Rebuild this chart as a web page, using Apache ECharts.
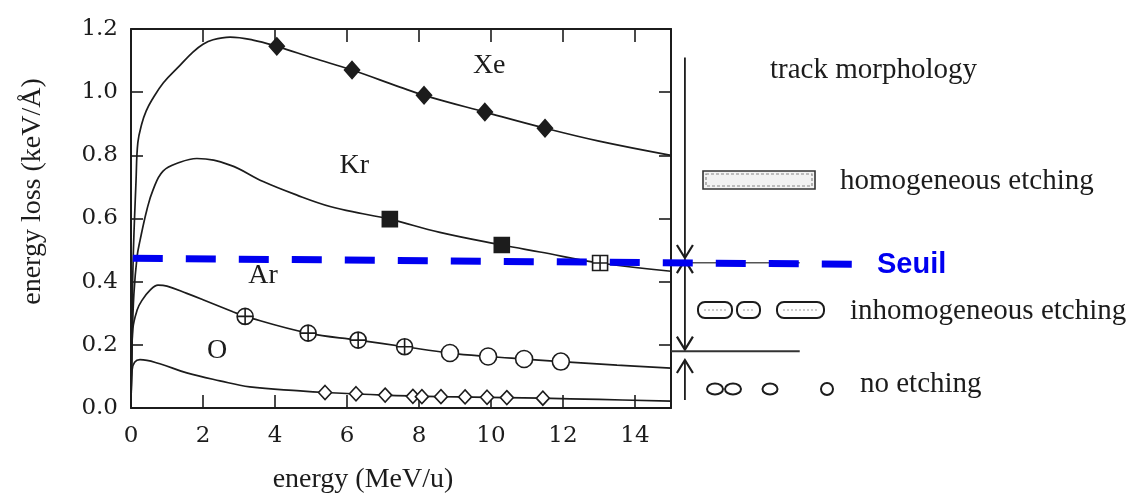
<!DOCTYPE html>
<html>
<head>
<meta charset="utf-8">
<script src="https://cdn.jsdelivr.net/npm/echarts@6/dist/echarts.min.js"></script>
<style>html,body{margin:0;padding:0;background:#fff}#c{width:1136px;height:500px}</style>
</head>
<body>
<div id="c"></div>
<script>
// ---- data (energy MeV/u, energy loss keV/Å) ----
var xeCurve = [[0,0],[0.02,0.2],[0.06,0.47],[0.14,0.72],[0.19,0.84],[0.3,0.9],[0.42,0.94],[0.58,0.975],[0.9,1.03],[1.36,1.085],[1.72,1.127],[2.0,1.152],[2.28,1.166],[2.75,1.174],[3.39,1.165],[4.05,1.145],[5.06,1.108],[6.14,1.07],[7.47,1.016],[8.14,0.99],[9.83,0.937],[11.5,0.886],[13,0.845],[15,0.80]];
var krCurve = [[0,0],[0.03,0.2],[0.08,0.36],[0.17,0.48],[0.25,0.53],[0.44,0.627],[0.61,0.69],[0.89,0.75],[1.36,0.778],[1.83,0.79],[2.75,0.769],[3.67,0.717],[4.61,0.674],[5.53,0.638],[6.44,0.615],[7.19,0.598],[8.58,0.556],[10.3,0.516],[11.36,0.494],[13.03,0.459],[15,0.433]];
var arCurve = [[0,0],[0.02,0.15],[0.05,0.25],[0.17,0.31],[0.3,0.34],[0.53,0.373],[0.75,0.389],[1.0,0.386],[1.55,0.363],[2.0,0.343],[2.83,0.305],[3.17,0.29],[4.92,0.237],[6.31,0.215],[7.6,0.194],[8.86,0.174],[9.92,0.163],[10.92,0.155],[11.94,0.147],[13.5,0.136],[15,0.126]];
var oCurve = [[0,0],[0.03,0.12],[0.1,0.145],[0.25,0.153],[0.8,0.14],[1.55,0.111],[2.47,0.086],[3.3,0.067],[4.7,0.054],[5.4,0.049],[7.0,0.041],[8.6,0.036],[10.4,0.033],[11.4,0.031],[13,0.027],[15,0.022]];

var xeMarkers = [[4.05,1.145],[6.14,1.07],[8.14,0.99],[9.83,0.937],[11.5,0.886]];
var krMarkers = [[7.19,0.598],[10.3,0.516]];
var krBoxPlus = [[13.03,0.459]];
var arPlusCircles = [[3.17,0.29],[4.92,0.237],[6.31,0.215],[7.6,0.194]];
var arCircles = [[8.86,0.174],[9.92,0.163],[10.92,0.155],[11.94,0.147]];
var oDiamonds = [[5.39,0.049],[6.25,0.045],[7.06,0.041],[7.83,0.037],[8.08,0.036],[8.61,0.036],[9.28,0.035],[9.89,0.034],[10.44,0.033],[11.44,0.031]];

var seuilLine = [[0.05,0.474],[20.06,0.455]];
var etchBoundaries = [0.46, 0.18];
var xTickLabels = ['0','2','4','6','8','10','12','14'];
var yTickLabels = ['0.0','0.2','0.4','0.6','0.8','1.0','1.2'];
var ionLabels = [{t:'Xe',e:9.95,v:1.085},{t:'Kr',e:6.2,v:0.766},{t:'Ar',e:3.67,v:0.42},{t:'O',e:2.39,v:0.183}];
var arrowX = 15.39;
var arrows = [{from:1.11,to:0.475,heads:[false,true]},{from:0.468,to:0.185,heads:[true,true]},{from:0.025,to:0.152,heads:[false,true]}];

// ---- chart ----
var chart = echarts.init(document.getElementById('c'));
var serif = 'Liberation Serif';
var ink = '#1c1c1c';
var plusCircle = 'path://M10,0A10,10,0,1,1,10,20A10,10,0,1,1,10,0Z M10,0L10,20 M0,10L20,10';
var boxPlus = 'path://M0,0L20,0L20,20L0,20Z M10,0L10,20 M0,10L20,10';

function curve(data){
  return {type:'line', xAxisIndex:0, yAxisIndex:0, data:data, showSymbol:false, smooth:0.4,
    lineStyle:{color:ink, width:1.7}, z:2, silent:true};
}
function marks(data, symbol, size, filled){
  return {type:'scatter', xAxisIndex:0, yAxisIndex:0, data:data, symbol:symbol, symbolSize:size,
    itemStyle:{color: filled ? ink : '#fff', borderColor:ink, borderWidth:1.6, opacity:1}, z:4, silent:true};
}

var xBase = {type:'value', min:0, max:15, interval:2, gridIndex:0,
  axisLine:{show:true, onZero:false, lineStyle:{color:ink, width:2}},
  axisTick:{show:true, inside:true, length:13, lineStyle:{color:ink, width:1.6}},
  splitLine:{show:false}};
var yBase = {type:'value', min:0, max:1.2, interval:0.2, gridIndex:0,
  axisLine:{show:true, onZero:false, lineStyle:{color:ink, width:2}},
  axisTick:{show:true, inside:true, length:12, lineStyle:{color:ink, width:1.6}},
  splitLine:{show:false}};

var option = {
  backgroundColor:'#fff',
  animation:false,
  grid:[
    {left:131, right:465, top:29, bottom:92, containLabel:false},
    {left:131, width:722, top:29, bottom:92, containLabel:false}
  ],
  xAxis:[
    Object.assign({}, xBase, {position:'bottom',
      axisLabel:{show:true, showMaxLabel:false, margin:17, color:ink, fontFamily:'DejaVu Serif', fontSize:23,
        formatter:function(v){ var i = Math.round(v/2); return (Math.abs(v-2*i)<1e-6 && xTickLabels[i]!==undefined) ? xTickLabels[i] : ''; }},
      name:'energy (MeV/u)', nameLocation:'middle', nameGap:58,
      nameTextStyle:{color:ink, fontFamily:serif, fontSize:28, padding:[0,76,0,0]}}),
    Object.assign({}, xBase, {position:'top', axisLabel:{show:false}}),
    {type:'value', gridIndex:1, min:0, max:20.06, show:false}
  ],
  yAxis:[
    Object.assign({}, yBase, {position:'left',
      axisLabel:{show:true, margin:13, color:ink, fontFamily:'DejaVu Serif', fontSize:23,
        formatter:function(v){ var i = Math.round(v/0.2); return yTickLabels[i] !== undefined ? yTickLabels[i] : ''; }},
      name:'energy loss (keV/\u00C5)', nameLocation:'middle', nameGap:84, nameRotate:90,
      nameTextStyle:{color:ink, fontFamily:serif, fontSize:28, padding:[0,0,0,54]}}),
    Object.assign({}, yBase, {position:'right', axisLabel:{show:false}}),
    {type:'value', gridIndex:1, min:0, max:1.2, show:false}
  ],
  series:[
    curve(xeCurve), curve(krCurve), curve(arCurve), curve(oCurve),
    marks(xeMarkers, 'diamond', [15,17], true),
    marks(krMarkers, 'rect', 15, true),
    marks(krBoxPlus, boxPlus, 15, false),
    marks(arPlusCircles, plusCircle, 16, false),
    marks(arCircles, 'circle', 17, false),
    marks(oDiamonds, 'diamond', [13,14], false),
    // threshold boundaries of the track-morphology scale
    {type:'line', xAxisIndex:2, yAxisIndex:2, data:[[15,etchBoundaries[0]],[18.58,etchBoundaries[0]]], showSymbol:false,
      lineStyle:{color:'#555', width:1.5}, z:3, silent:true},
    {type:'line', xAxisIndex:2, yAxisIndex:2, data:[[15,etchBoundaries[1]],[18.58,etchBoundaries[1]]], showSymbol:false,
      lineStyle:{color:'#333', width:2}, z:3, silent:true},
    // Seuil
    {type:'line', xAxisIndex:2, yAxisIndex:2, data:seuilLine, showSymbol:false,
      lineStyle:{color:'#0000f0', width:7, type:[30,23], cap:'butt'}, z:10, silent:true}
  ]
};
chart.setOption(option);

function P(e, v){ return chart.convertToPixel({xAxisIndex:2, yAxisIndex:2}, [e, v]); }

var g = [];
// arrows
arrows.forEach(function(a){
  var p1 = P(arrowX, a.from), p2 = P(arrowX, a.to);
  g.push({type:'line', shape:{x1:p1[0], y1:p1[1], x2:p2[0], y2:p2[1]}, style:{stroke:ink, lineWidth:1.8}});
  function head(tip, other){
    var dir = other[1] > tip[1] ? 1 : -1;
    g.push({type:'polyline', shape:{points:[[tip[0]-8, tip[1]+dir*13],[tip[0], tip[1]],[tip[0]+8, tip[1]+dir*13]]},
      style:{stroke:ink, lineWidth:2.2, fill:null}});
  }
  if (a.heads[0]) head(p1, p2);
  if (a.heads[1]) head(p2, p1);
});
// ion labels inside the plot
ionLabels.forEach(function(l){
  var p = chart.convertToPixel({xAxisIndex:0, yAxisIndex:0}, [l.e, l.v]);
  g.push({type:'text', x:p[0], y:p[1], style:{text:l.t, font:'28px "Liberation Serif"', fill:ink, textAlign:'center', textVerticalAlign:'middle'}});
});
// morphology legend texts
function txt(t, x, y, font, color){ g.push({type:'text', x:x, y:y, style:{text:t, font:font, fill:color||ink, textAlign:'left', textVerticalAlign:'middle'}}); }
txt('track morphology', 770, 70, '29px "Liberation Serif"');
txt('homogeneous etching', 840, 181, '29px "Liberation Serif"');
txt('inhomogeneous etching', 850, 311, '29px "Liberation Serif"');
txt('no etching', 860, 384, '29px "Liberation Serif"');
txt('Seuil', 877, 265, 'bold 29px "Liberation Sans"', '#0000f0');
// icons
g.push({type:'rect', shape:{x:703, y:171, width:112, height:18}, style:{fill:'#f2f2f2', stroke:'#333', lineWidth:1.6}});
g.push({type:'rect', shape:{x:706, y:174, width:106, height:12}, style:{fill:null, stroke:'#888', lineWidth:1.2, lineDash:[3,2]}});
[[698,34],[737,23],[777,47]].forEach(function(r){
  g.push({type:'rect', shape:{x:r[0], y:302, width:r[1], height:16, r:7}, style:{fill:'#fff', stroke:ink, lineWidth:2}});
  g.push({type:'line', shape:{x1:r[0]+6, y1:310, x2:r[0]+r[1]-6, y2:310}, style:{stroke:'#999', lineWidth:1.2, lineDash:[2,2]}});
});
[[715,8,5.5],[733,8,5.5],[770,7.5,5.5],[827,6,6]].forEach(function(e){
  g.push({type:'ellipse', shape:{cx:e[0], cy:389, rx:e[1], ry:e[2]}, style:{fill:'#fff', stroke:ink, lineWidth:2}});
});
chart.setOption({graphic:g});
</script>
</body>
</html>
